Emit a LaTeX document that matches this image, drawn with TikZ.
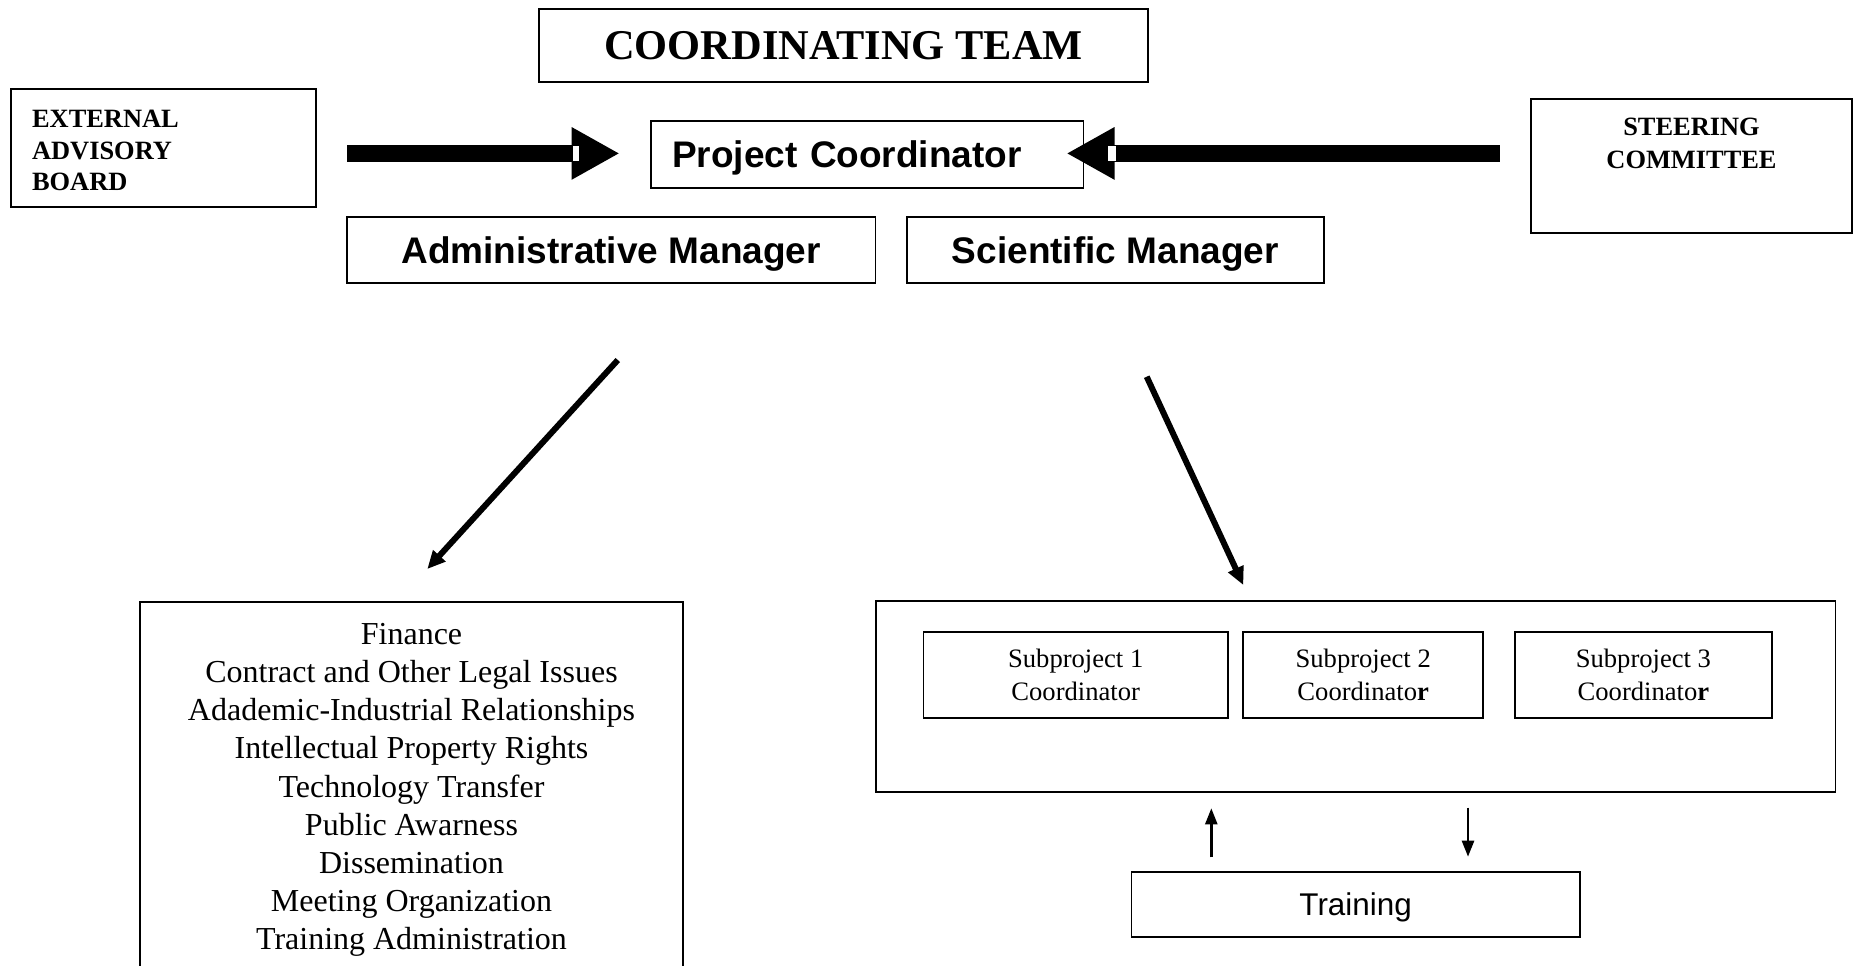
\documentclass[tikz,border=0pt]{standalone}
\usepackage{fontspec}
\setmainfont{Liberation Serif}
\setsansfont{Liberation Sans}
\usetikzlibrary{arrows.meta}

\begin{document}
\begin{tikzpicture}[x=0.5pt,y=-0.5pt,
    box/.style={draw,line width=0.9pt,inner sep=0,minimum height=33pt},
    head/.style={font=\sffamily\bfseries\fontsize{18.5}{22}\selectfont,text height=13.3pt,text depth=0pt},
    caps/.style={font=\bfseries\fontsize{13.2}{15.8}\selectfont},
    sub/.style={box,minimum height=42.7pt,align=center,font=\fontsize{13.3}{16.2}\selectfont},
    bigarrow/.style={line width=8.35pt,-{Triangle[length=24pt,width=24.5pt]}},
    diag/.style={line width=3pt,-{Triangle[length=9pt,width=8pt]}},
    smallarrow/.style={line width=1.2pt,-{Triangle[length=8pt,width=6pt]}}]
  \useasboundingbox (0,0) rectangle (1856,965);

  % top row
  \node[box,minimum width=304.5pt,minimum height=36.2pt,font=\bfseries\fontsize{21.2}{25}\selectfont] (team) at (843.5,45.5) {COORDINATING TEAM};
  \node[box,minimum width=152.4pt,minimum height=58.9pt] (board) at (163.6,147.9) {};
  \node[caps,align=left,anchor=north west,inner sep=0] (boardtext) at ([xshift=10.7pt,yshift=-10.8pt]board.north west) {EXTERNAL\\ADVISORY\\BOARD};
  \node[box,minimum width=160.5pt,minimum height=67pt] (steer) at (1691.5,166.3) {};
  \node[caps,align=center,anchor=north,inner sep=0,font=\bfseries\fontsize{13.2}{16.65}\selectfont] (steertext) at ([yshift=-9.5pt]steer.north) {STEERING\\COMMITTEE};
  \node[box,head,minimum width=216.1pt,minimum height=33.35pt,text width=195.1pt,align=left] (pc) at (867.4,154.3) {Project Coordinator};
  \node[box,head,minimum width=264.3pt] (adm) at (611.1,250.3) {Administrative Manager};
  \node[box,head,minimum width=208.4pt] (sci) at (1115.4,250.3) {Scientific Manager};

  % bottom left
  \node[draw,line width=0.9pt,anchor=north,minimum width=271.5pt,inner xsep=0,inner ysep=10.4pt,align=center,font=\fontsize{16}{19.1}\selectfont] (tasks) at (411.5,601.3) {Finance\\Contract and Other Legal Issues\\Adademic-Industrial Relationships\\Intellectual Property Rights\\Technology Transfer\\Public Awarness\\Dissemination\\Meeting Organization\\Training Administration};

  % bottom right
  \node[box,minimum width=479.8pt,minimum height=95.8pt] (subs) at (1355.7,696.5) {};
  \node[sub,minimum width=152.2pt] (sub1) at (1075.7,675) {Subproject 1\\Coordinator};
  \node[sub,minimum width=120pt] (sub2) at (1363.2,675) {Subproject 2\\Coordinato\textbf{r}};
  \node[sub,minimum width=128.4pt] (sub3) at (1643.4,675) {Subproject 3\\Coordinato\textbf{r}};
  \node[box,minimum width=224.2pt,minimum height=32.2pt,font=\sffamily\fontsize{15.7}{19}\selectfont,text height=11.2pt,text depth=0pt] (train) at (1355.6,904.5) {Training};

  % arrows
  \coordinate (boardout) at (347.3,153.4);
  \coordinate (pcin) at (619.6,153.4);
  \coordinate (steerout) at (1499.6,153.4);
  \coordinate (pcright) at (1066.5,153.4);
  \draw[bigarrow] (boardout) -- (pcin);
  \draw[bigarrow] (steerout) -- (pcright);
  \fill[white] (572.8,146) rectangle (579,160.7);
  \fill[white] (1108,146) rectangle (1115.6,160.7);

  \coordinate (admout) at (617.8,360);
  \coordinate (tasksin) at (427.3,569);
  \coordinate (sciout) at (1146.7,376.7);
  \coordinate (subsin) at (1243.3,585);
  \draw[diag] (admout) -- (tasksin);
  \draw[diag] (sciout) -- (subsin);

  \coordinate (upfrom) at (1211.3,857.3);
  \coordinate (upto) at (1211.3,808.3);
  \coordinate (downfrom) at (1468,807.7);
  \coordinate (downto) at (1468,856.7);
  \draw[smallarrow] (upfrom) -- (upto);
  \draw[smallarrow] (downfrom) -- (downto);
\end{tikzpicture}
\end{document}
